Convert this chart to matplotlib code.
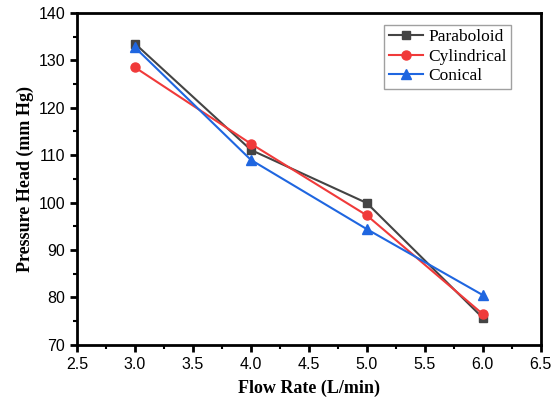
import matplotlib.pyplot as plt
from matplotlib.ticker import MultipleLocator

flow_rate = [3.0, 4.0, 5.0, 6.0]
paraboloid = [133.5, 111.1, 99.9, 75.7]
cylindrical = [128.5, 112.4, 97.3, 76.5]
conical = [132.7, 109.0, 94.4, 80.5]

fig = plt.figure(figsize=(5.58, 4.01), dpi=100)
ax = fig.add_axes([0.138, 0.140, 0.831, 0.828])

ax.plot(flow_rate, paraboloid, color='#444444', marker='s', markersize=6, lw=1.5, label='Paraboloid')
ax.plot(flow_rate, cylindrical, color='#f03a3a', marker='o', markersize=6.5, lw=1.5, label='Cylindrical')
ax.plot(flow_rate, conical, color='#1f66e0', marker='^', markersize=7, lw=1.5, label='Conical')

ax.set_xlim(2.5, 6.5)
ax.set_ylim(70, 140)
ax.xaxis.set_major_locator(MultipleLocator(0.5))
ax.xaxis.set_minor_locator(MultipleLocator(0.25))
ax.yaxis.set_major_locator(MultipleLocator(10))
ax.yaxis.set_minor_locator(MultipleLocator(5))

for s in ax.spines.values():
    s.set_linewidth(2)
ax.tick_params(which='major', direction='out', length=5, width=2, labelsize=11.5)
ax.tick_params(which='minor', direction='out', length=3, width=1.5)
for lab in ax.get_xticklabels() + ax.get_yticklabels():
    lab.set_fontfamily('Liberation Sans')

ax.set_xlabel('Flow Rate (L/min)', fontfamily='Liberation Serif', fontweight='bold', fontsize=13, labelpad=6)
ax.set_ylabel('Pressure Head (mm Hg)', fontfamily='Liberation Serif', fontweight='bold', fontsize=13, labelpad=3)

leg = ax.legend(loc='upper right', bbox_to_anchor=(0.948, 0.98), prop={'family': 'Liberation Serif', 'size': 12.5},
                fancybox=False, edgecolor='#888888', handlelength=2.0, borderpad=0.25, labelspacing=0.2,
                handletextpad=0.3, borderaxespad=0.3)
leg.get_frame().set_linewidth(1)

fig.savefig('out.png', dpi=100)
